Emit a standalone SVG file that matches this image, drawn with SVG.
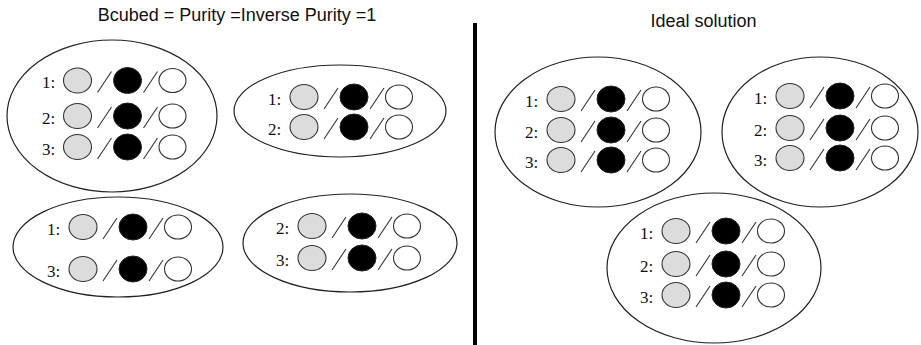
<svg xmlns="http://www.w3.org/2000/svg" xmlns:xlink="http://www.w3.org/1999/xlink" width="921" height="345" viewBox="0 0 921 345">
<style>
.title{font-family:"Liberation Sans",Arial,sans-serif;font-size:18px;fill:#111;text-anchor:middle}
.lbl{font-family:"Liberation Serif","Times New Roman",serif;font-size:17px;fill:#111}
.cluster{fill:none;stroke:#222;stroke-width:1.2}
.g{fill:#dcdcdc;stroke:#333;stroke-width:1.1}
.b{fill:#000;stroke:#222;stroke-width:1}
.w{fill:#fff;stroke:#333;stroke-width:1.1}
.sl{stroke:#333;stroke-width:1.1}
</style>
<defs>
<g id="row">
<ellipse class="g" cx="0" cy="0" rx="14" ry="12.5"/>
<line class="sl" x1="20" y1="12" x2="34" y2="-9"/>
<ellipse class="b" cx="50" cy="0" rx="14" ry="13"/>
<line class="sl" x1="66" y1="12" x2="80" y2="-9"/>
<ellipse class="w" cx="95" cy="0" rx="13.5" ry="12"/>
</g>
</defs>
<rect width="921" height="345" fill="#fff"/>
<text class="title" x="237" y="21">Bcubed = Purity =Inverse Purity =1</text>
<text class="title" x="703.5" y="27">Ideal solution</text>
<g id="divider"><line x1="475" y1="23" x2="475" y2="345" stroke="#000" stroke-width="4"/></g>

<g id="c1">
<ellipse class="cluster" cx="112" cy="116" rx="105" ry="76"/>
<text class="lbl" x="42" y="88">1:</text><use xlink:href="#row" x="77.5" y="80.5"/>
<text class="lbl" x="42" y="123.5">2:</text><use xlink:href="#row" x="77.5" y="116"/>
<text class="lbl" x="42" y="154.5">3:</text><use xlink:href="#row" x="77.5" y="147"/>
</g>
<g id="c2">
<ellipse class="cluster" cx="340" cy="111" rx="106" ry="46"/>
<text class="lbl" x="268" y="104.5">1:</text><use xlink:href="#row" x="304" y="97"/>
<text class="lbl" x="268" y="134.5">2:</text><use xlink:href="#row" x="304" y="127"/>
</g>
<g id="c3">
<ellipse class="cluster" cx="118" cy="247" rx="105" ry="50"/>
<text class="lbl" x="47" y="234.5">1:</text><use xlink:href="#row" x="83" y="227"/>
<text class="lbl" x="47" y="276.5">3:</text><use xlink:href="#row" x="83" y="269"/>
</g>
<g id="c4">
<ellipse class="cluster" cx="350" cy="243" rx="107" ry="49"/>
<text class="lbl" x="276" y="233.5">2:</text><use xlink:href="#row" x="312" y="226"/>
<text class="lbl" x="276" y="265.5">3:</text><use xlink:href="#row" x="312" y="258"/>
</g>
<g id="c5">
<ellipse class="cluster" cx="598" cy="132" rx="103" ry="75"/>
<text class="lbl" x="525" y="106.5">1:</text><use xlink:href="#row" x="561" y="99"/>
<text class="lbl" x="525" y="137.5">2:</text><use xlink:href="#row" x="561" y="130"/>
<text class="lbl" x="525" y="167.5">3:</text><use xlink:href="#row" x="561" y="160"/>
</g>
<g id="c6">
<ellipse class="cluster" cx="820" cy="132" rx="98" ry="75"/>
<text class="lbl" x="754" y="103.5">1:</text><use xlink:href="#row" x="790" y="96"/>
<text class="lbl" x="754" y="135.5">2:</text><use xlink:href="#row" x="790" y="128"/>
<text class="lbl" x="754" y="165.5">3:</text><use xlink:href="#row" x="790" y="158"/>
</g>
<g id="c7">
<ellipse class="cluster" cx="714" cy="268" rx="107" ry="75"/>
<text class="lbl" x="640" y="238.5">1:</text><use xlink:href="#row" x="676" y="231"/>
<text class="lbl" x="640" y="271.5">2:</text><use xlink:href="#row" x="676" y="264"/>
<text class="lbl" x="640" y="302.5">3:</text><use xlink:href="#row" x="676" y="295"/>
</g>
<g id="connectors"/>
</svg>
